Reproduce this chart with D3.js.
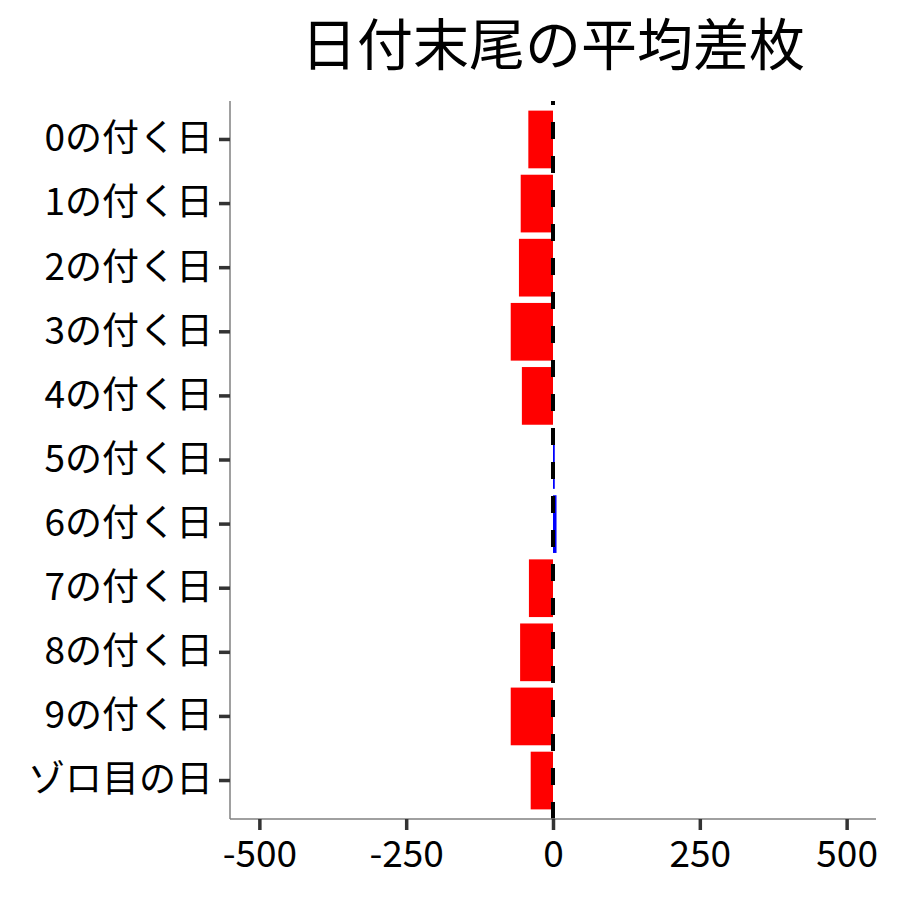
<!DOCTYPE html>
<html><head><meta charset="utf-8">
<script src="https://cdn.jsdelivr.net/npm/d3@7"></script>
<style>body{margin:0;background:#fff}</style>
</head><body>
<script>
const categories = ["0の付く日","1の付く日","2の付く日","3の付く日","4の付く日","5の付く日","6の付く日","7の付く日","8の付く日","9の付く日","ゾロ目の日"];
const values = [-42, -55, -58, -72, -53, 3, 6, -41, -56, -72, -38];
const xTicks = [-500, -250, 0, 250, 500];
const titleText = "日付末尾の平均差枚";

const W = 900, H = 900;
const font = "'Noto Sans CJK JP', 'Noto Sans', sans-serif";
const m = {left: 230, right: 24, top: 101, bottom: 81};
const svg = d3.select("body").append("svg").attr("width", W).attr("height", H);

const x = d3.scaleLinear().domain([-550, 550]).range([m.left, W - m.right]);
const y = d3.scaleBand().domain(categories).range([m.top, H - m.bottom]).paddingInner(0.1).paddingOuter(0.15);

svg.append("g").selectAll("rect").data(categories).join("rect")
  .attr("x", (d, i) => x(Math.min(0, values[i])))
  .attr("width", (d, i) => Math.abs(x(values[i]) - x(0)))
  .attr("y", d => y(d))
  .attr("height", y.bandwidth())
  .attr("fill", (d, i) => values[i] < 0 ? "#ff0000" : "#0000ff");

// dashed zero line (drawn from bottom to top)
svg.append("line")
  .attr("x1", x(0)).attr("x2", x(0))
  .attr("y1", H - m.bottom).attr("y2", m.top)
  .attr("stroke", "#000").attr("stroke-width", 4)
  .attr("stroke-dasharray", "17,17");

// axes
const xAxis = svg.append("g").attr("transform", `translate(0,${H - m.bottom})`)
  .call(d3.axisBottom(x).tickValues(xTicks).tickFormat(d => String(d)).tickSize(11).tickPadding(11));
const yAxis = svg.append("g").attr("transform", `translate(${m.left},0)`)
  .call(d3.axisLeft(y).tickSize(11).tickPadding(6));
[xAxis, yAxis].forEach(g => {
  g.select(".domain").attr("stroke", "#808080").attr("stroke-width", 1.5);
  g.selectAll(".tick line").attr("stroke", "#333").attr("stroke-width", 3.5);
  g.selectAll(".tick text").attr("fill", "#000").attr("font-family", font).attr("font-size", 37);
});
xAxis.select(".domain").attr("d", `M${m.left},0H${W - m.right}`);
yAxis.select(".domain").attr("d", `M0,${m.top}V${H - m.bottom}`);

svg.append("text")
  .attr("x", (m.left + W - m.right) / 2).attr("y", 65)
  .attr("text-anchor", "middle")
  .attr("font-family", font).attr("font-size", 56)
  .attr("fill", "#000")
  .text(titleText);
</script>
</body></html>
